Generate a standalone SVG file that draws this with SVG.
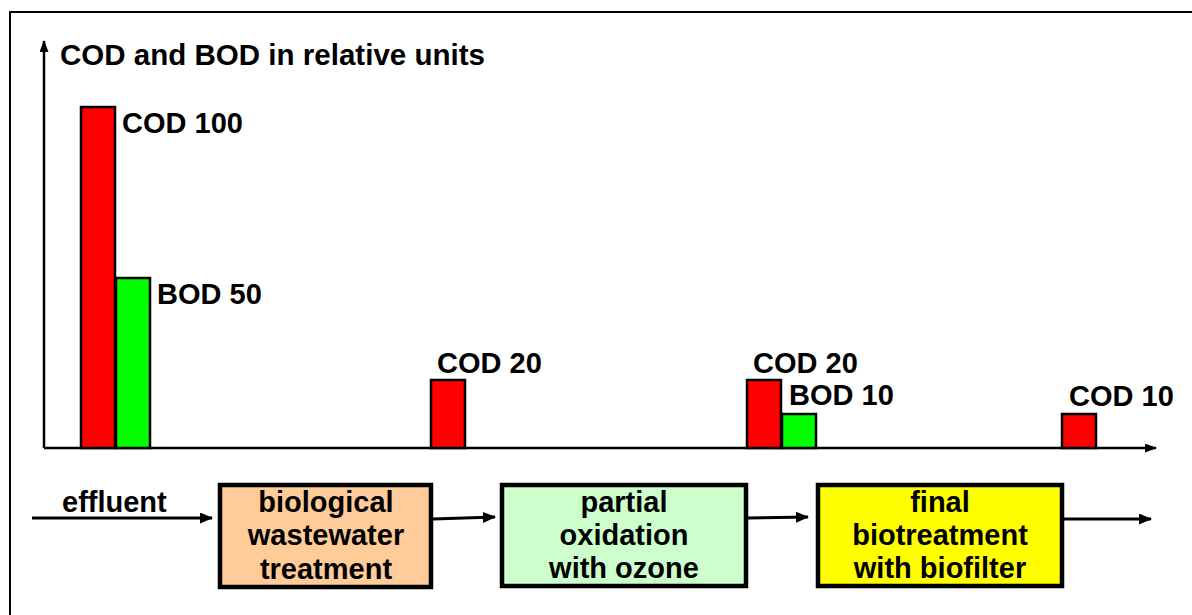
<svg xmlns="http://www.w3.org/2000/svg" width="1192" height="615" viewBox="0 0 1192 615">
<style>
text{font-family:"Liberation Sans",Arial,sans-serif;font-weight:bold;font-size:29px;fill:#000}
.c{text-anchor:middle}
.bar{stroke:#000;stroke-width:2.5}
.cod{fill:#ff0000}
.bod{fill:#00ff00}
.box{stroke:#000;stroke-width:4.5}
.ax{stroke:#000;stroke-width:2.5;fill:none}
.ln{stroke:#000;stroke-width:3;fill:none;marker-end:url(#ah)}
</style>
<defs>
<marker id="ah" markerWidth="13" markerHeight="11" refX="12" refY="5.5" orient="auto" markerUnits="userSpaceOnUse">
<path d="M0,0 L13,5.5 L0,11 z" fill="#000"/>
</marker>
<marker id="ax" markerWidth="12" markerHeight="9" refX="11" refY="4.5" orient="auto" markerUnits="userSpaceOnUse">
<path d="M0,0 L12,4.5 L0,9 z" fill="#000"/>
</marker>
</defs>
<rect width="1192" height="615" fill="#fff"/>
<path d="M10,615 L10,12 L1192,12" stroke="#000" stroke-width="2" fill="none"/>

<g id="axes">
<line class="ax" x1="44" y1="448" x2="44" y2="41" marker-end="url(#ax)"/>
<line class="ax" x1="44" y1="448" x2="1156" y2="448" marker-end="url(#ax)"/>
<text x="60" y="65" textLength="425" lengthAdjust="spacingAndGlyphs">COD and BOD in relative units</text>
</g>

<g id="bars-effluent">
<rect class="bar cod" x="81" y="107" width="34" height="341"/>
<rect class="bar bod" x="116" y="278" width="34" height="170"/>
<text x="122" y="133">COD 100</text>
<text x="157" y="304">BOD 50</text>
</g>

<g id="bars-bio">
<rect class="bar cod" x="431" y="380" width="34" height="68"/>
<text x="437" y="373">COD 20</text>
</g>

<g id="bars-ozone">
<rect class="bar cod" x="747" y="380" width="34" height="68"/>
<rect class="bar bod" x="782" y="414" width="34" height="34"/>
<text x="753" y="373">COD 20</text>
<text x="789" y="405">BOD 10</text>
</g>

<g id="bars-final">
<rect class="bar cod" x="1062" y="414" width="34" height="34"/>
<text x="1069" y="406">COD 10</text>
</g>

<g id="effluent">
<text x="62" y="512">effluent</text>
</g>

<g id="box-bio">
<rect class="box" x="220" y="485" width="211" height="102" fill="#ffcc99"/>
<text class="c" x="326" y="512">biological</text>
<text class="c" x="326" y="545">wastewater</text>
<text class="c" x="326" y="579">treatment</text>
</g>

<g id="box-ozone">
<rect class="box" x="502" y="485" width="244" height="101" fill="#ccffcc"/>
<text class="c" x="624" y="512">partial</text>
<text class="c" x="624" y="545">oxidation</text>
<text class="c" x="624" y="578">with ozone</text>
</g>

<g id="box-final">
<rect class="box" x="818" y="485" width="244" height="101" fill="#ffff00"/>
<text class="c" x="940" y="512">final</text>
<text class="c" x="940" y="545">biotreatment</text>
<text class="c" x="940" y="578">with biofilter</text>
</g>

<g id="connectors">
<line class="ln" x1="32" y1="518" x2="212" y2="518"/>
<line class="ln" x1="433" y1="519" x2="495" y2="517"/>
<line class="ln" x1="748" y1="518" x2="808" y2="517"/>
<line class="ln" x1="1064" y1="519" x2="1151" y2="519"/>
</g>
</svg>
